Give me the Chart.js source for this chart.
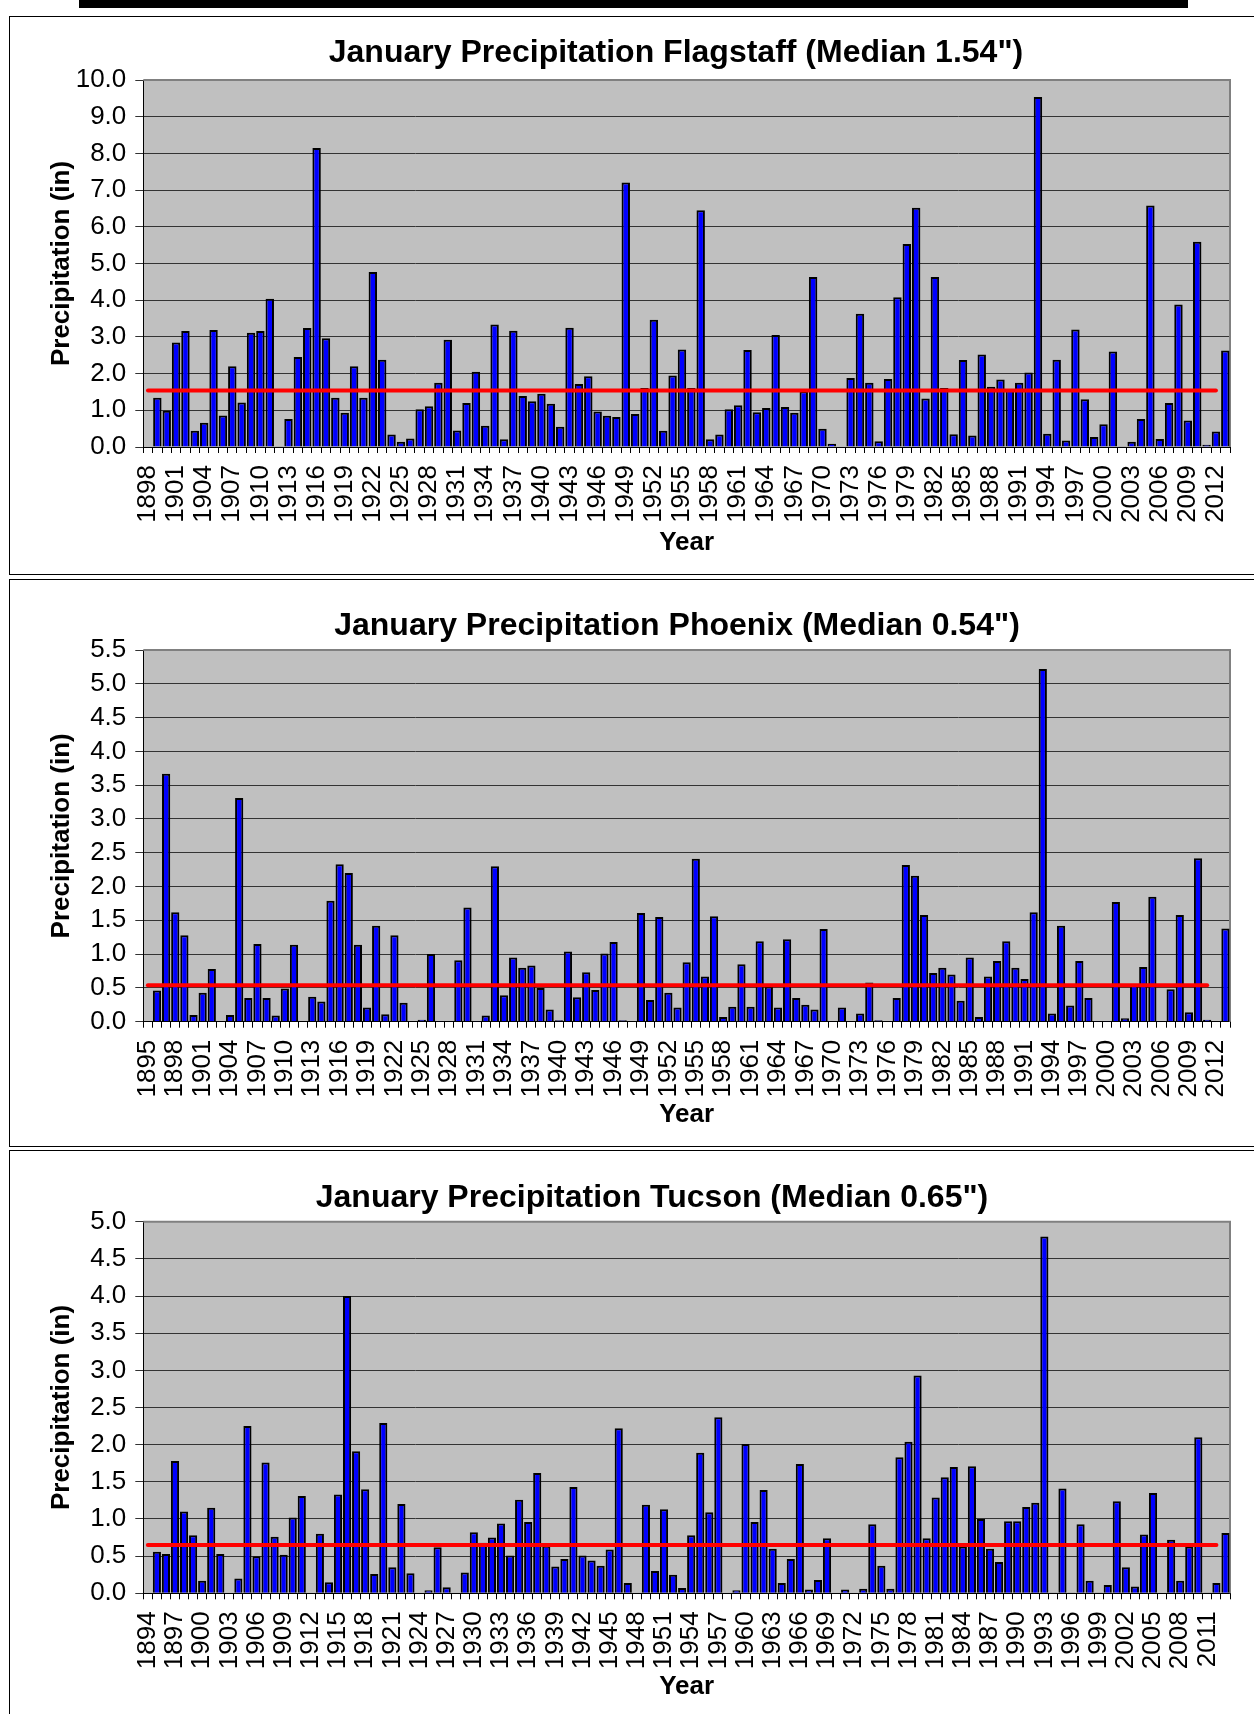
<!DOCTYPE html>
<html>
<head>
<meta charset="utf-8">
<title>January Precipitation</title>
<script src="https://cdn.jsdelivr.net/npm/chart.js@4.4.1/dist/chart.umd.min.js"></script>
<style>
  html, body { margin: 0; padding: 0; background: #fff; }
  body { position: relative; width: 1254px; height: 1714px; overflow: hidden; }
  .panel { position: absolute; left: 9px; width: 1250px; border: 1px solid #000; box-sizing: border-box; }
  canvas { position: absolute; }
  #topbar { position: absolute; left: 79px; top: 0; width: 1109px; height: 8px; background: #000; }
</style>
</head>
<body>
<div id="topbar"></div>
<div class="panel" style="top:16px;height:559px"></div>
<div class="panel" style="top:579px;height:568px"></div>
<div class="panel" style="top:1150px;height:580px"></div>
<canvas id="flagstaff"></canvas>
<canvas id="phoenix"></canvas>
<canvas id="tucson"></canvas>
<script>
// January precipitation (inches), one value per year; null = no record
const flagstaffFirstYear = 1898, flagstaffLastYear = 2013;
const flagstaffJan = [
  null,
  1.34, 0.99, 2.85, 3.16, 0.44, 0.66, 3.19, 0.86, 2.20, 1.21,
  3.11, 3.16, 4.04, 0.02, 0.76, 2.45, 3.24, 8.15, 2.96, 1.34,
  0.93, 2.20, 1.34, 4.77, 2.38, 0.34, 0.14, 0.23, 1.03, 1.11,
  1.75, 2.92, 0.45, 1.20, 2.05, 0.58, 3.34, 0.21, 3.17, 1.39,
  1.25, 1.45, 1.18, 0.55, 3.25, 1.72, 1.93, 0.97, 0.85, 0.82,
  7.21, 0.90, 1.61, 3.47, 0.44, 1.95, 2.66, 1.61, 6.45, 0.21,
  0.34, 1.03, 1.14, 2.64, 0.95, 1.06, 3.05, 1.09, 0.93, 1.52,
  4.63, 0.50, 0.09, 0, 1.88, 3.63, 1.75, 0.16, 1.85, 4.08,
  5.53, 6.52, 1.32, 4.63, 1.61, 0.35, 2.37, 0.31, 2.52, 1.64,
  1.84, 1.55, 1.75, 2.03, 9.54, 0.36, 2.38, 0.18, 3.20, 1.30,
  0.27, 0.62, 2.60, 0.02, 0.14, 0.76, 6.58, 0.22, 1.20, 3.88,
  0.72, 5.59, 0.06, 0.42, 2.63
];
const flagstaffMedian = 1.54;
const flagstaffMedianSpan = ['1898', '2012'];

const phoenixFirstYear = 1895, phoenixLastYear = 2013;
const phoenixJan = [
  null,
  0.46, 3.67, 1.62, 1.28, 0.10, 0.43, 0.78, 0, 0.10, 3.31,
  0.35, 1.15, 0.35, 0.09, 0.49, 1.14, 0, 0.37, 0.30, 1.79,
  2.33, 2.20, 1.14, 0.21, 1.42, 0.11, 1.28, 0.28, 0, 0.03,
  1.00, 0.01, 0, 0.91, 1.69, 0.01, 0.09, 2.30, 0.39, 0.95,
  0.80, 0.83, 0.50, 0.18, 0.02, 1.04, 0.36, 0.73, 0.47, 1.01,
  1.18, 0.02, 0, 1.61, 0.32, 1.55, 0.43, 0.21, 0.88, 2.41,
  0.67, 1.56, 0.07, 0.22, 0.85, 0.22, 1.19, 0.52, 0.21, 1.22,
  0.35, 0.25, 0.18, 1.37, 0, 0.21, 0, 0.12, 0.58, 0.02,
  0, 0.35, 2.32, 2.16, 1.58, 0.72, 0.80, 0.70, 0.31, 0.95,
  0.07, 0.67, 0.90, 1.19, 0.80, 0.63, 1.62, 5.22, 0.12, 1.42,
  0.24, 0.90, 0.35, 0.01, 0.01, 1.77, 0.05, 0.55, 0.81, 1.85,
  0, 0.48, 1.58, 0.14, 2.42, 0.03, 0, 1.38
];
const phoenixMedian = 0.54;
const phoenixMedianSpan = ['1895', '2011'];

const tucsonFirstYear = 1894, tucsonLastYear = 2013;
const tucsonJan = [
  null,
  0.56, 0.53, 1.78, 1.10, 0.78, 0.17, 1.15, 0.53, 0, 0.20,
  2.25, 0.50, 1.76, 0.76, 0.52, 1.02, 1.31, 0, 0.80, 0.15,
  1.33, 4.00, 1.91, 1.40, 0.26, 2.29, 0.35, 1.20, 0.27, 0,
  0.04, 0.62, 0.08, 0, 0.28, 0.82, 0.68, 0.75, 0.94, 0.51,
  1.26, 0.96, 1.62, 0.64, 0.36, 0.46, 1.43, 0.51, 0.44, 0.37,
  0.59, 2.22, 0.14, 0, 1.19, 0.30, 1.13, 0.25, 0.07, 0.78,
  1.89, 1.09, 2.37, 0, 0.04, 2.01, 0.96, 1.39, 0.60, 0.14,
  0.46, 1.74, 0.05, 0.18, 0.74, 0, 0.05, 0, 0.06, 0.93,
  0.37, 0.06, 1.83, 2.04, 2.93, 0.74, 1.29, 1.56, 1.70, 0.63,
  1.71, 1.00, 0.60, 0.42, 0.97, 0.97, 1.16, 1.22, 4.80, 0.01,
  1.41, 0.01, 0.93, 0.17, 0.01, 0.11, 1.24, 0.35, 0.09, 0.79,
  1.35, 0, 0.72, 0.17, 0.63, 2.10, 0.01, 0.14, 0.81
];
const tucsonMedian = 0.65;
const tucsonMedianSpan = ['1894', '2012'];

function yearLabels(first, last) {
  const out = [];
  for (let y = first; y <= last; y++) out.push(String(y));
  return out;
}

const FONT = '"Liberation Sans", Arial, sans-serif';
const CANVAS_LEFT = 10, CANVAS_WIDTH = 1243;
const PLOT_LEFT = 143.3, PLOT_RIGHT = 1230;
const TITLE_SIZE = 32, AXIS_TITLE_SIZE = 26, TICK_SIZE = 26;

// silver plot background plus the grey top/right frame
const plotFrame = {
  id: 'plotFrame',
  beforeDraw(chart) {
    const { ctx, chartArea: a } = chart;
    ctx.save();
    ctx.fillStyle = '#c0c0c0';
    ctx.fillRect(a.left, a.top, a.right - a.left, a.bottom - a.top);
    ctx.restore();
  },
  beforeDatasetsDraw(chart) {
    const { ctx, chartArea: a } = chart;
    ctx.save();
    ctx.strokeStyle = '#808080';
    ctx.lineWidth = 2;
    ctx.beginPath();
    ctx.moveTo(a.left, a.top);
    ctx.lineTo(a.right, a.top);
    ctx.lineTo(a.right, a.bottom);
    ctx.stroke();
    ctx.restore();
  }
};

// chart heading, placed by hand since the titles are not centred on the canvas
const panelTitle = {
  id: 'panelTitle',
  afterDraw(chart, args, opts) {
    const { ctx } = chart;
    ctx.save();
    ctx.font = 'bold ' + TITLE_SIZE + 'px ' + FONT;
    ctx.fillStyle = '#000';
    ctx.textAlign = 'center';
    ctx.textBaseline = 'middle';
    ctx.fillText(opts.text, opts.x, opts.y);
    ctx.restore();
  }
};

function drawPanel(id, panel, box) {
  const canvas = document.getElementById(id);
  canvas.width = CANVAS_WIDTH;
  canvas.height = box.height;
  canvas.style.left = CANVAS_LEFT + 'px';
  canvas.style.top = box.top + 'px';

  const axisLine = AXIS_TITLE_SIZE * 1.2;
  const plotTop = box.plotTop - box.top;
  const plotBottom = box.plotBottom - box.top;
  const xHeight = box.height - plotBottom;
  const yearPad = box.top + box.height - box.yearY - axisLine / 2;

  return new Chart(canvas, {
    type: 'bar',
    data: {
      labels: panel.years,
      datasets: [
        {
          type: 'line',
          label: 'Median',
          data: [
            { x: panel.medianSpan[0], y: panel.median },
            { x: panel.medianSpan[1], y: panel.median }
          ],
          borderColor: '#ff0000',
          borderWidth: 4,
          borderCapStyle: 'round',
          pointRadius: 0,
          order: 0
        },
        {
          label: 'January',
          data: panel.values,
          backgroundColor: '#0000ff',
          borderColor: '#000000',
          borderWidth: 2,
          barPercentage: 0.9,
          categoryPercentage: 1,
          order: 1
        }
      ]
    },
    options: {
      responsive: false,
      animation: false,
      devicePixelRatio: 1,
      layout: { padding: { left: 0, top: plotTop, bottom: 0, right: CANVAS_LEFT + CANVAS_WIDTH - PLOT_RIGHT } },
      plugins: {
        legend: { display: false },
        tooltip: { enabled: false },
        title: { display: false },
        panelTitle: { text: panel.title, x: box.titleX - CANVAS_LEFT, y: box.titleY - box.top }
      },
      scales: {
        x: {
          grid: { display: true, offset: true, drawOnChartArea: false, drawTicks: true, tickLength: 6, color: '#000', lineWidth: 1 },
          border: { display: true, color: '#000', width: 1 },
          ticks: {
            autoSkip: false,
            minRotation: 90,
            maxRotation: 90,
            padding: 12,
            color: '#000',
            font: { family: FONT, size: TICK_SIZE },
            callback(v, i) { return i % 3 === 0 ? this.getLabelForValue(v) : ''; }
          },
          title: {
            display: true,
            text: 'Year',
            color: '#000',
            font: { family: FONT, size: AXIS_TITLE_SIZE, weight: 'bold' },
            padding: { top: 0, bottom: yearPad }
          },
          afterFit(scale) {
            scale.height = xHeight;
            scale.paddingLeft = 0;
            scale.paddingRight = 0;
          }
        },
        y: {
          min: 0,
          max: panel.yMax,
          grid: { color: '#333', lineWidth: 1, drawTicks: true, tickLength: 8 },
          border: { display: true, color: '#000', width: 1 },
          ticks: {
            stepSize: panel.yStep,
            autoSkip: false,
            maxTicksLimit: 40,
            padding: 9,
            color: '#000',
            font: { family: FONT, size: TICK_SIZE },
            callback: v => v.toFixed(1)
          },
          title: {
            display: true,
            text: 'Precipitation (in)',
            color: '#000',
            font: { family: FONT, size: AXIS_TITLE_SIZE, weight: 'bold' },
            padding: { top: box.yTitleX - CANVAS_LEFT - axisLine / 2, bottom: 0 }
          },
          afterFit(scale) {
            scale.width = PLOT_LEFT - CANVAS_LEFT;
            scale.paddingTop = 0;
            scale.paddingBottom = 0;
          }
        }
      }
    },
    plugins: [plotFrame, panelTitle]
  });
}

drawPanel('flagstaff', {
  title: 'January Precipitation Flagstaff (Median 1.54")',
  years: yearLabels(flagstaffFirstYear, flagstaffLastYear),
  values: flagstaffJan,
  median: flagstaffMedian,
  medianSpan: flagstaffMedianSpan,
  yMax: 10, yStep: 1
}, { top: 17, height: 557, titleX: 676, titleY: 53.5, plotTop: 80, plotBottom: 447, yearY: 543, yTitleX: 62 });

drawPanel('phoenix', {
  title: 'January Precipitation Phoenix (Median 0.54")',
  years: yearLabels(phoenixFirstYear, phoenixLastYear),
  values: phoenixJan,
  median: phoenixMedian,
  medianSpan: phoenixMedianSpan,
  yMax: 5.5, yStep: 0.5
}, { top: 580, height: 566, titleX: 677, titleY: 626, plotTop: 650, plotBottom: 1021.7, yearY: 1115, yTitleX: 62 });

drawPanel('tucson', {
  title: 'January Precipitation Tucson (Median 0.65")',
  years: yearLabels(tucsonFirstYear, tucsonLastYear),
  values: tucsonJan,
  median: tucsonMedian,
  medianSpan: tucsonMedianSpan,
  yMax: 5, yStep: 0.5
}, { top: 1151, height: 563, titleX: 652, titleY: 1198, plotTop: 1221.7, plotBottom: 1593.3, yearY: 1687, yTitleX: 62 });
</script>
</body>
</html>
